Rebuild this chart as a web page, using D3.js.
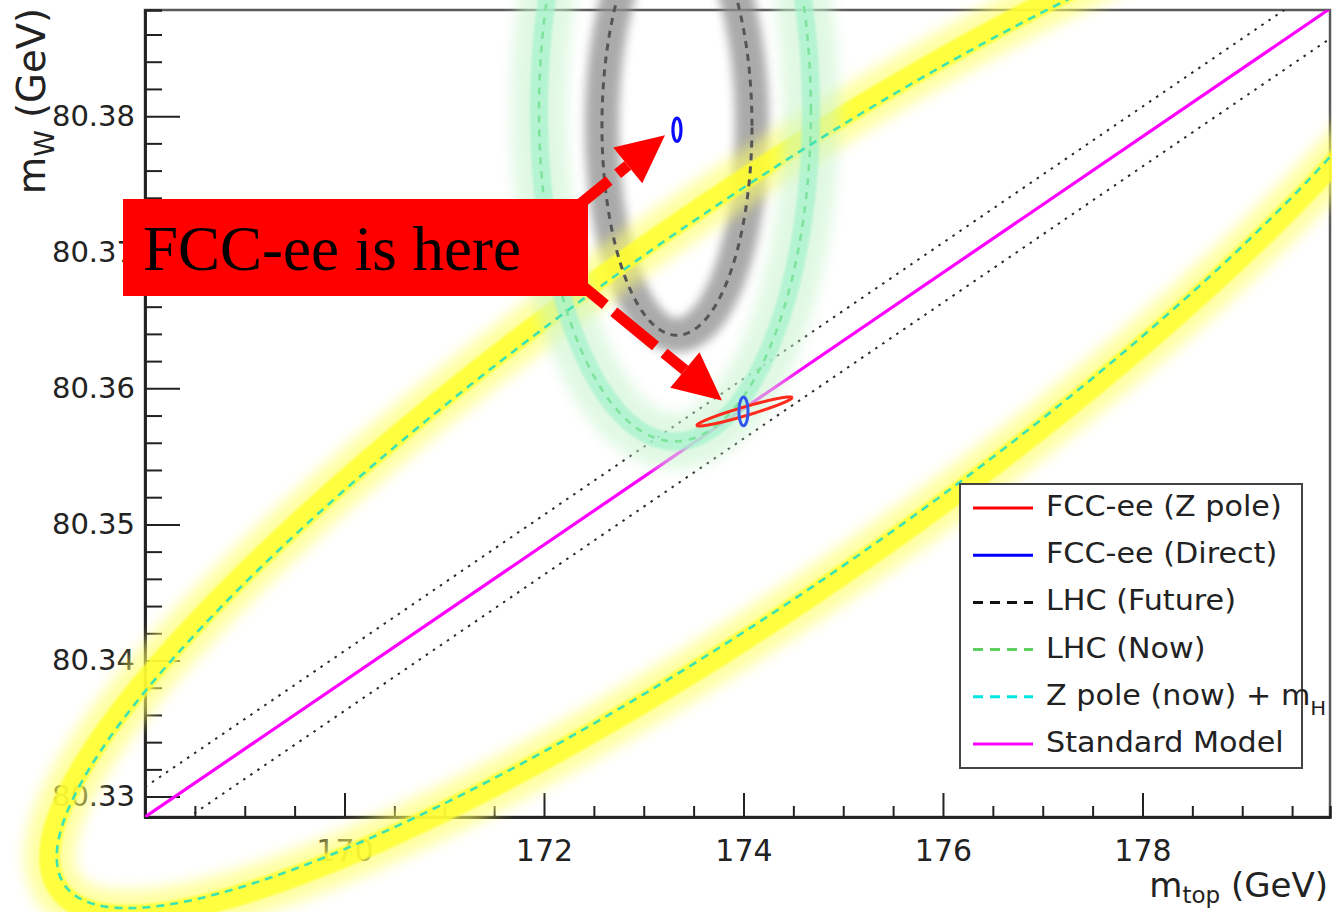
<!DOCTYPE html>
<html><head><meta charset="utf-8">
<script src="https://cdn.jsdelivr.net/npm/d3@7"></script>
<style>body{margin:0;background:#fff;} svg{display:block;}</style>
</head><body>
<svg id="chart" width="1332" height="912"></svg>
<script>
// ---------------- data ----------------
const xMajorTicks = [170, 172, 174, 176, 178];
const yMajorTicks = [80.33, 80.34, 80.35, 80.36, 80.37, 80.38];

// Standard Model line and its dotted uncertainty band (mt, mW endpoints)
const smMt = [168, 180];
const smMw = [80.3285, 80.3885];
const smUpperMw = [80.3307, 80.3907];
const smLowerMw = [80.3263, 80.3863];

// contours: centre, half-extent in mt and mW, correlation
const contourNames  = ["Z pole (now) + mH", "LHC (Now)", "LHC (Future)", "FCC-ee (Z pole)", "FCC-ee (Direct) now", "FCC-ee (Direct) SM"];
const contourMt     = [174.145, 173.313, 173.333, 174.01, 173.333, 174.0];
const contourMw     = [80.3591, 80.3804, 80.3793, 80.3583, 80.3790, 80.3583];
const contourSigMt  = [7.03, 1.363, 0.752, 0.476, 0.040, 0.045];
const contourSigMw  = [0.0373, 0.0243, 0.0154, 0.00107, 0.00085, 0.00105];
const contourRho    = [0.899, 0, 0, 0.949, 0, 0];

// legend
const legendLabels = ["FCC-ee (Z pole)", "FCC-ee (Direct)", "LHC (Future)", "LHC (Now)", "Z pole (now) + m", "Standard Model"];
const legendSubs   = ["", "", "", "", "H", ""];

// annotation arrows (from label box towards the FCC-ee points)
const arrowFromMt = [172.44, 172.44];
const arrowFromMw = [80.3740, 80.3672];
const arrowToMt   = [173.213, 173.784];
const arrowToMw   = [80.3786, 80.3591];
const annotationText = "FCC-ee is here";

// ---------------- drawing ----------------
const svg = d3.select("#chart");
const W = 1332, H = 912;
const x = d3.scaleLinear().domain([168, 179.88]).range([145, 1330]);
const y = d3.scaleLinear().domain([80.3285, 80.3878]).range([817, 10]);
const FONT = "'DejaVu Sans', sans-serif";

svg.append("rect").attr("width", W).attr("height", H).attr("fill", "#fff");

const defs = svg.append("defs");
function blurFilter(id, sd){
  defs.append("filter").attr("id", id).attr("filterUnits", "userSpaceOnUse")
    .attr("x", -300).attr("y", -300).attr("width", 2000).attr("height", 1600)
    .append("feGaussianBlur").attr("stdDeviation", sd);
}
blurFilter("b1", 1.2); blurFilter("b5", 5); blurFilter("b7", 7); blurFilter("b06", 0.6);
defs.append("clipPath").attr("id", "plotclip").append("rect")
  .attr("x", x(168)).attr("y", y(80.3878)).attr("width", x(179.88) - x(168)).attr("height", y(80.3285) - y(80.3878));

// frame
svg.append("rect").attr("x", x(168)).attr("y", y(80.3878)).attr("width", x(179.88) - x(168)).attr("height", y(80.3285) - y(80.3878))
  .attr("fill", "none").attr("stroke", "#5a5a5a").attr("stroke-width", 2.5);

// axes
const xMinor = d3.range(0, 24).map(k => 168.5 + 0.5 * k).filter(v => v < 179.9 && !xMajorTicks.some(m => Math.abs(m - v) < 1e-6));
const yMinor = d3.range(0, 30).map(k => +(80.330 + 0.002 * k).toFixed(3)).filter(v => v <= 80.3878 && Math.round(v * 1000) % 10 !== 0);

const gx = svg.append("g").attr("transform", `translate(0,${y(80.3285)})`);
gx.call(d3.axisBottom(x).tickValues(xMinor).tickSize(-11).tickFormat(""));
gx.append("g").call(d3.axisBottom(x).tickValues(xMajorTicks).tickSizeInner(-24).tickSizeOuter(0).tickPadding(23).tickFormat(d3.format("d")));
gx.selectAll("path.domain").attr("stroke", "#222").attr("stroke-width", 2.5);
gx.selectAll(".tick line").attr("stroke", "#222").attr("stroke-width", 2);
gx.selectAll("text").attr("font-family", FONT).attr("font-size", 30).attr("fill", "#222");

const gy = svg.append("g").attr("transform", `translate(${x(168)},0)`);
gy.call(d3.axisLeft(y).tickValues(yMinor).tickSize(-17).tickFormat(""));
gy.append("g").call(d3.axisLeft(y).tickValues(yMajorTicks).tickSizeInner(-35).tickSizeOuter(0).tickPadding(10).tickFormat(d3.format(".2f")));
gy.selectAll("path.domain").attr("stroke", "#222").attr("stroke-width", 2.5);
gy.selectAll(".tick line").attr("stroke", "#222").attr("stroke-width", 2);
gy.selectAll("text").attr("font-family", FONT).attr("font-size", 29).attr("fill", "#222");

// axis titles
const xt = svg.append("text").attr("x", 1328).attr("y", 897).attr("text-anchor", "end")
  .attr("font-family", FONT).attr("font-size", 34).attr("fill", "#222");
xt.append("tspan").text("m");
xt.append("tspan").attr("font-size", 23).attr("dy", 6).text("top");
xt.append("tspan").attr("dy", -6).text(" (GeV)");

const yt = svg.append("text").attr("transform", "translate(45,8) rotate(-90)").attr("text-anchor", "end")
  .attr("font-family", FONT).attr("font-size", 38.5).attr("fill", "#222");
yt.append("tspan").text("m");
yt.append("tspan").attr("font-size", 27).attr("dy", 9).text("W");
yt.append("tspan").attr("dy", -9).text(" (GeV)");

// SM line + dotted band
const lineG = svg.append("g").attr("clip-path", "url(#plotclip)");
const seg = (mws) => d3.line()(smMt.map((m, i) => [x(m), y(mws[i])]));
lineG.append("path").attr("d", seg(smUpperMw)).attr("stroke", "#2a2a2a").attr("stroke-width", 2).attr("stroke-dasharray", "2.5,6").attr("fill", "none");
lineG.append("path").attr("d", seg(smLowerMw)).attr("stroke", "#2a2a2a").attr("stroke-width", 2).attr("stroke-dasharray", "2.5,6").attr("fill", "none");
lineG.append("path").attr("d", seg(smMw)).attr("stroke", "#ff00ff").attr("stroke-width", 3.2).attr("fill", "none");

// contour geometry
function contourPts(i, n = 720){
  const r = contourRho[i], s = Math.sqrt(1 - r * r), pts = [];
  for (let k = 0; k <= n; k++){
    const t = 2 * Math.PI * k / n;
    const mt = contourMt[i] + contourSigMt[i] * Math.cos(t);
    const mw = contourMw[i] + contourSigMw[i] * (r * Math.cos(t) + s * Math.sin(t));
    pts.push([x(mt), y(mw)]);
  }
  return pts;
}
function offsetPts(pts, d, cx, cy){
  const n = pts.length - 1, out = [];
  for (let k = 0; k < n; k++){
    const p0 = pts[(k - 1 + n) % n], p1 = pts[(k + 1) % n], p = pts[k];
    const tx = p1[0] - p0[0], ty = p1[1] - p0[1], L = Math.hypot(tx, ty) || 1;
    let nx = ty / L, ny = -tx / L;
    if (nx * (p[0] - cx) + ny * (p[1] - cy) < 0){ nx = -nx; ny = -ny; }
    out.push([p[0] + nx * d, p[1] + ny * d]);
  }
  out.push(out[0]);
  return out;
}
const line = d3.line();
const P = contourNames.map((_, i) => contourPts(i));

// glow bands
const bands = svg.append("g");
// LHC future (grey)
bands.append("path").attr("d", line(P[2])).attr("fill", "none").attr("stroke", "#8e8e8e").attr("stroke-width", 34).attr("opacity", 0.75).attr("filter", "url(#b5)");
// Z pole (now)+mH (yellow)
const yOff = offsetPts(P[0], 7, x(contourMt[0]), y(contourMw[0]));
bands.append("path").attr("d", line(yOff)).attr("fill", "none").attr("stroke", "#ffff66").attr("stroke-width", 50).attr("opacity", 0.6).attr("filter", "url(#b7)");
bands.append("path").attr("d", line(yOff)).attr("fill", "none").attr("stroke", "#ffff2e").attr("stroke-width", 21).attr("opacity", 0.85).attr("filter", "url(#b1)");
// LHC now (mint)
bands.append("path").attr("d", line(P[1])).attr("fill", "none").attr("stroke", "#c8f4cc").attr("stroke-width", 56).attr("opacity", 0.55).attr("filter", "url(#b7)");
bands.append("path").attr("d", line(P[1])).attr("fill", "none").attr("stroke", "#a6f3cf").attr("stroke-width", 18).attr("opacity", 0.75).attr("filter", "url(#b1)");

// dashed contours
svg.append("path").attr("d", line(P[0])).attr("fill", "none").attr("stroke", "#3de2b2").attr("stroke-width", 2.6).attr("stroke-dasharray", "8,6");
svg.append("path").attr("d", line(P[1])).attr("fill", "none").attr("stroke", "#7ee39b").attr("stroke-width", 2.6).attr("stroke-dasharray", "7,7");
svg.append("path").attr("d", line(P[2])).attr("fill", "none").attr("stroke", "#555").attr("stroke-width", 3).attr("stroke-dasharray", "7,6");

// FCC-ee contours
svg.append("path").attr("d", line(P[3])).attr("fill", "none").attr("stroke", "#ff2a1a").attr("stroke-width", 3).attr("filter", "url(#b06)");
svg.append("path").attr("d", line(P[4])).attr("fill", "none").attr("stroke", "#0a0aff").attr("stroke-width", 3.2);
svg.append("path").attr("d", line(P[5])).attr("fill", "none").attr("stroke", "#3355ee").attr("stroke-width", 3).attr("filter", "url(#b06)");

// legend
const lg = svg.append("g");
lg.append("rect").attr("x", 960).attr("y", 484).attr("width", 342).attr("height", 284).attr("fill", "#fff").attr("stroke", "#444").attr("stroke-width", 2);
const legColors = ["#ff0000", "#0000ff", "#111111", "#5fcf5f", "#00e6e6", "#ff00ff"];
const legDash = [null, null, "10,7", "10,7", "10,7", null];
legendLabels.forEach((lab, i) => {
  const yy = 508 + i * 47.2;
  lg.append("line").attr("x1", 973).attr("x2", 1033).attr("y1", yy).attr("y2", yy)
    .attr("stroke", legColors[i]).attr("stroke-width", 3).attr("stroke-dasharray", legDash[i]);
  const t = lg.append("text").attr("transform", `translate(1046,${yy + 8}) scale(1.06,1)`)
    .attr("font-family", FONT).attr("font-size", 28.5).attr("fill", "#222");
  t.append("tspan").text(lab);
  if (legendSubs[i]) t.append("tspan").attr("font-size", 20).attr("dy", 10).text(legendSubs[i]);
});

// annotation arrows
const ann = svg.append("g");
const dashOffsets = [41, 27];
arrowToMt.forEach((_, i) => {
  const tx = x(arrowToMt[i]), ty = y(arrowToMw[i]);
  const fx = x(arrowFromMt[i]), fy = y(arrowFromMw[i]);
  const L = Math.hypot(tx - fx, ty - fy), ux = (tx - fx) / L, uy = (ty - fy) / L;
  const bx = tx - ux * 48, by = ty - uy * 48;
  ann.append("line").attr("x1", bx).attr("y1", by).attr("x2", fx - ux * 40).attr("y2", fy - uy * 40)
    .attr("stroke", "#ff0000").attr("stroke-width", 11).attr("stroke-dasharray", "54,11").attr("stroke-dashoffset", dashOffsets[i]);
  const px = -uy, py = ux;
  ann.append("path").attr("d", d3.line()([[tx, ty], [bx + px * 23, by + py * 23], [bx - px * 23, by - py * 23]]) + "Z").attr("fill", "#ff0000");
});
ann.append("rect").attr("x", 123).attr("y", 199).attr("width", 465).attr("height", 97).attr("fill", "#ff0000");
ann.append("text").attr("x", 143).attr("y", 270).attr("font-family", "'Liberation Serif', 'Times New Roman', serif").attr("font-size", 63).attr("fill", "#000").text(annotationText);
</script>
</body></html>
